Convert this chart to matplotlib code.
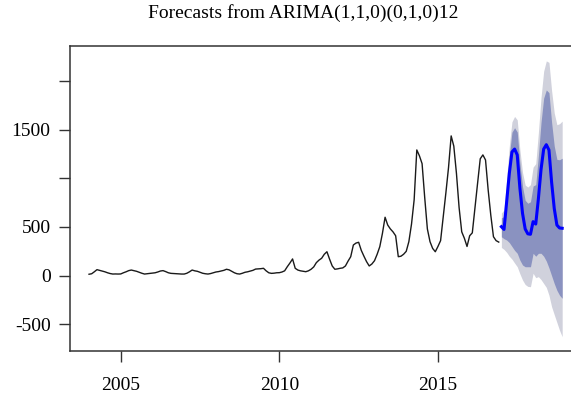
import matplotlib

matplotlib.use("Agg")
import matplotlib.pyplot as plt
import numpy as np

plt.rcParams["font.family"] = ["Liberation Serif", "DejaVu Serif"]

# monthly observations, Jan 2004 - Dec 2016
start_year = 2004
observed = [
    15, 20, 40, 62, 55, 48, 40, 30, 22, 17, 18, 17,            # 2004
    18, 30, 40, 52, 58, 52, 45, 35, 25, 17, 20, 24,            # 2005
    26, 30, 38, 48, 52, 42, 30, 24, 22, 20, 18, 17,            # 2006
    17, 25, 40, 58, 50, 45, 35, 25, 20, 17, 22, 30,            # 2007
    38, 42, 48, 55, 66, 60, 45, 30, 20, 17, 25, 35,            # 2008
    40, 48, 55, 68, 70, 72, 76, 50, 30, 24, 26, 30,            # 2009
    31, 38, 50, 92, 130, 172, 76, 58, 50, 45, 41, 50,          # 2010
    66, 90, 134, 160, 179, 220, 246, 170, 100, 66, 70, 76,     # 2011
    80, 100, 150, 195, 315, 335, 343, 260, 200, 144, 100, 120,  # 2012
    154, 220, 298, 435, 600, 520, 480, 450, 410, 195, 200, 220,  # 2013
    250, 350, 530, 780, 1291, 1230, 1150, 800, 480, 349, 280, 246,  # 2014
    300, 360, 600, 850, 1110, 1435, 1330, 1050, 700, 450, 384, 300,  # 2015
    410, 440, 700, 950, 1200, 1240, 1188, 880, 620, 400, 360, 345,  # 2016
]

# 24-month forecast, Jan 2017 - Dec 2018
fc_start = 2017
fc_mean = [503, 475, 760, 1050, 1270, 1300, 1240, 900, 640, 480, 430, 425,
           555, 530, 790, 1090, 1300, 1345, 1290, 960, 690, 520, 490, 487]
fc_lo80 = [400, 380, 366, 340, 300, 260, 230, 160, 110, 92, 92, 92,
           230, 200, 230, 230, 200, 150, 80, 0, -80, -150, -200, -232]
fc_hi80 = [595, 606, 917, 1233, 1473, 1519, 1475, 1155, 915, 774, 744, 759,
           921, 935, 1235, 1574, 1823, 1907, 1879, 1575, 1331, 1194, 1190, 1206]
fc_lo95 = [290, 270, 240, 200, 170, 130, 92, 20, -44, -90, -110, -113,
           25, -20, -10, -40, -80, -120, -200, -318, -400, -480, -560, -626]
fc_hi95 = [643, 675, 1000, 1330, 1580, 1635, 1600, 1290, 1060, 930, 910, 935,
           1115, 1150, 1470, 1830, 2100, 2205, 2190, 1900, 1670, 1550, 1560, 1587]

yticks = [-500, 0, 500, 1000, 1500, 2000]
ytick_labels = ["-500", "0", "500", "", "1500", ""]
xticks = [2005, 2010, 2015]

t_obs = start_year + np.arange(len(observed)) / 12
t_fc = fc_start + np.arange(len(fc_mean)) / 12

fig = plt.figure(figsize=(5.71, 3.96), dpi=100)
ax = fig.add_axes([70 / 571, 45 / 396, 511 / 571, 305 / 396])

ax.fill_between(t_fc, fc_lo95, fc_hi95, color="#d0d1dc", lw=0)
ax.fill_between(t_fc, fc_lo80, fc_hi80, color="#8a92c0", lw=0)
ax.plot(t_obs, observed, color="#1a1a1a", lw=1.0)
ax.plot(t_fc, fc_mean, color="#0000ff", lw=2.2)

ax.set_xlim(2003.40, 2019.51)
ax.set_ylim(-773, 2358)
ax.set_xticks(xticks)
ax.set_yticks(yticks)
ax.set_yticklabels(ytick_labels)
ax.tick_params(axis="both", direction="out", length=8, width=1.0,
               color="#333333", labelsize=14)
ax.tick_params(axis="x", pad=11)
ax.tick_params(axis="y", pad=6)
for s in ax.spines.values():
    s.set_color("#333333")
    s.set_linewidth(1.1)

fig.text(303 / 571, 1 - 18 / 396, "Forecasts from ARIMA(1,1,0)(0,1,0)12",
         ha="center", va="baseline", fontsize=14)

fig.savefig("out.png", dpi=100)
